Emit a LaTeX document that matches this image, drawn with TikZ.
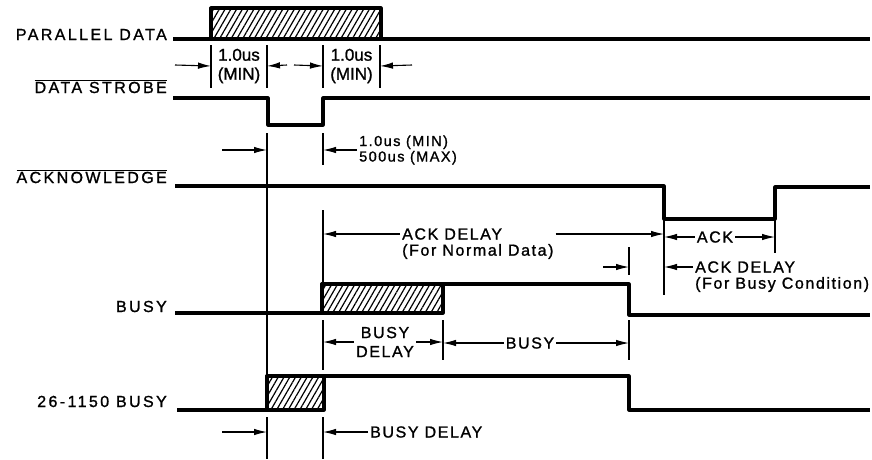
\documentclass[tikz,border=0pt]{standalone}
\usepackage{fontspec}
\setmainfont{Liberation Sans}[LetterSpace=10, FakeBold=1.2]
\newfontfamily\plainsans{Liberation Sans}[FakeBold=1.2]
\newfontfamily\namefont{Liberation Sans}[LetterSpace=15, FakeBold=1.2]
\usetikzlibrary{arrows.meta,patterns.meta,positioning}

\tikzset{
  signal/.style={line width=3.2pt, line join=round},
  hatch/.style={signal, pattern={Lines[angle=60,distance=5pt,line width=1.2pt]}},
  marker/.style={line width=1.5pt},
  dim/.style={line width=1.1pt, -{Latex[length=13pt,width=6.5pt]}},
  lbl/.style={anchor=base east, inner sep=0pt, font=\namefont\fontsize{16}{19}\selectfont},
  dimtxt/.style={inner sep=2pt, font=\fontsize{16}{19}\selectfont},
  mintxt/.style={inner sep=0pt, align=center, font=\plainsans\fontsize{17}{19}\selectfont}
}

\begin{document}
\begin{tikzpicture}[x=1pt,y=-1pt]
\useasboundingbox (0,0) rectangle (872,459);

% event times
\coordinate (t0) at (211,0);
\coordinate (t1) at (267,0);
\coordinate (t2) at (323,0);
\coordinate (t3) at (380,0);
\coordinate (t4) at (443,0);
\coordinate (t5) at (629,0);
\coordinate (t6) at (664,0);
\coordinate (t7) at (775,0);

% signal names
\node[lbl] (pd) at (167,40) {PARALLEL DATA};
\node[lbl] (ds) at (167,93) {$\overline{\mbox{DATA STROBE}}$};
\node[lbl] (ack) at (167,183) {$\overline{\mbox{ACKNOWLEDGE}}$};
\node[lbl] (busy) at (167,312) {BUSY};
\node[lbl] (pbusy) at (167,407) {26-1150 BUSY};

% waveforms
\draw[hatch] (211,39) rectangle (381,8);
\draw[signal] (173,39) -- (211,39);
\draw[signal] (381,39) -- (870,39);
\draw[signal] (173,98) -- (268,98) -- (268,125) -- (323,125) -- (323,98) -- (870,98);
\draw[signal] (175,186) -- (664,186) -- (664,219) -- (775,219) -- (775,187) -- (870,187);
\draw[hatch] (322,313) rectangle (443,284);
\draw[signal] (175,313) -- (322,313) -- (322,284) -- (629,284) -- (629,315) -- (870,315);
\draw[hatch] (267,410) rectangle (324,376);
\draw[signal] (177,410) -- (267,410) -- (267,376) -- (629,376) -- (629,410) -- (870,410);

% setup and hold
\foreach \t in {t0,t1,t2,t3}
  \draw[marker] (\t |- 0,45) -- (\t |- 0,88);
\node[mintxt] (min1) at (239,66) {1.0us\\(MIN)};
\node[mintxt] (min2) at (351.5,66) {1.0us\\(MIN)};
\draw[dim] (175,65) -- (t0 |- min1);
\draw[dim] (287,65) -- (t1 |- min1);
\draw[dim] (294,65) -- (t2 |- min1);
\draw[dim] (412,65) -- (t3 |- min2);

% strobe width
\draw[marker] (t1 |- 0,133) -- (t1 |- 0,375);
\draw[marker] (t2 |- 0,133) -- (t2 |- 0,165);
\draw[marker] (t2 |- 0,210) -- (t2 |- 0,283);
\node[dimtxt, anchor=west, align=left, font=\fontsize{14.5}{15.5}\selectfont] (strb) at (357,150) {1.0us (MIN)\\500us (MAX)};
\draw[dim] (222,150) -- (t1 |- strb);
\draw[dim] (strb.west) -- (strb.west -| t2);

% acknowledge timing
\node[dimtxt, anchor=west] (ackd) at (400,234) {ACK DELAY};
\node[dimtxt, below=0pt of ackd.south west, anchor=north west] (ackdn) {(For Normal Data)};
\draw[dim] (ackd.west) -- (ackd.west -| t2);
\draw[dim] (ackd.east -| ackdn.east) -- (ackd.east -| t6);
\draw[marker] (t6 |- 0,219) -- (t6 |- 0,295);
\draw[marker] (t7 |- 0,219) -- (t7 |- 0,253);
\node[dimtxt] (ackw) at (715,237) {ACK};
\draw[dim] (ackw.west) -- (ackw.west -| t6);
\draw[dim] (ackw.east) -- (ackw.east -| t7);
\node[dimtxt, anchor=west] (ackb) at (693,267) {ACK DELAY};
\node[dimtxt, below=0pt of ackb.south west, anchor=north west] (ackbn) {(For Busy Condition)};
\draw[dim] (ackb.west) -- (ackb.west -| t6);
\draw[marker] (t5 |- 0,247) -- (t5 |- 0,275);
\draw[dim] (603,267) -- (t5 |- 0,267);

% busy timing
\draw[marker] (t2 |- 0,320) -- (t2 |- 0,370);
\draw[marker] (t4 |- 0,320) -- (t4 |- 0,360);
\draw[marker] (t5 |- 0,320) -- (t5 |- 0,360);
\node[dimtxt, align=center, font=\fontsize{16}{19}\selectfont] (bd) at (385,342) {BUSY\\DELAY};
\draw[dim] (bd.west) -- (bd.west -| t2);
\draw[dim] (bd.east) -- (bd.east -| t4);
\node[dimtxt] (bz) at (530,343) {BUSY};
\draw[dim] (bz.west) -- (bz.west -| t4);
\draw[dim] (bz.east) -- (bz.east -| t5);

% printer busy delay
\draw[marker] (t1 |- 0,417) -- (t1 |- 0,459);
\draw[marker] (t2 |- 0,417) -- (t2 |- 0,459);
\node[dimtxt, anchor=west] (bdl) at (368,432) {BUSY DELAY};
\draw[dim] (222,432) -- (t1 |- bdl);
\draw[dim] (bdl.west) -- (bdl.west -| t2);
\end{tikzpicture}
\end{document}
